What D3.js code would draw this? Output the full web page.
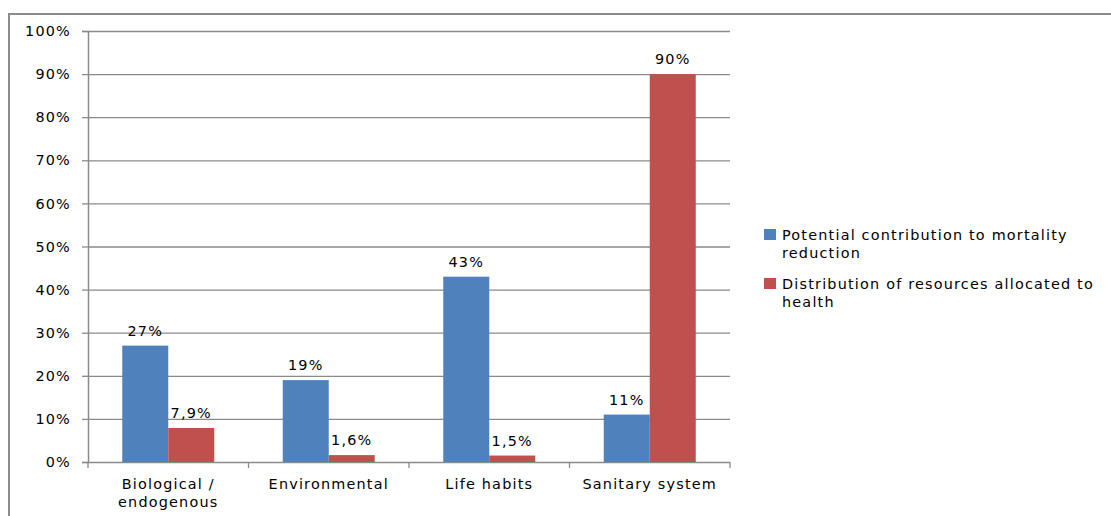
<!DOCTYPE html>
<html><head><meta charset="utf-8">
<script src="https://cdn.jsdelivr.net/npm/d3@7"></script>
<style>body{margin:0;background:#fff}svg{display:block}text{font-family:"DejaVu Sans",sans-serif;fill:#000}</style>
</head><body><svg id="c" width="1111" height="516"></svg>
<script>
const categories = [["Biological /","endogenous"],["Environmental"],["Life habits"],["Sanitary system"]];
const seriesNames = [["Potential contribution to mortality","reduction"],["Distribution of resources allocated to","health"]];
const mortality = [27, 19, 43, 11];
const resources = [7.9, 1.6, 1.5, 90];
const mortalityLabels = ["27%","19%","43%","11%"];
const resourceLabels = ["7,9%","1,6%","1,5%","90%"];
const yTicks = [0,10,20,30,40,50,60,70,80,90,100];
const colors = ["#4F81BD","#C0504D"];

const svg = d3.select("#c");
const L=88, R=730, T=31, B=462;
const FS = 14.4, LS = "1.2px";
// chart border
svg.append("rect").attr("x",9).attr("y",14).attr("width",1200).attr("height",600)
  .attr("fill","none").attr("stroke","#8c8c8c").attr("stroke-width",2);

const x = d3.scaleBand().domain(d3.range(categories.length)).range([L,R]).paddingInner(0).paddingOuter(0);
const y = d3.scaleLinear().domain([0,100]).range([B,T]);
const bw = 46;
const inner = d3.scaleBand().domain([0,1]).range([0,bw*2]);

// gridlines
svg.append("g").selectAll("line").data(yTicks.filter(d=>d>0)).join("line")
  .attr("x1",L).attr("x2",R).attr("y1",d=>y(d)+0.5).attr("y2",d=>y(d)+0.5)
  .attr("stroke","#8a8a8a").attr("stroke-width",1.3);

// y axis
const ya = svg.append("g").attr("transform",`translate(${L},0)`)
  .call(d3.axisLeft(y).tickValues(yTicks).tickFormat(d=>d+"%").tickSize(6).tickPadding(11));
ya.select(".domain").attr("stroke","#8a8a8a").attr("stroke-width",1.5);
ya.selectAll(".tick line").attr("stroke","#8a8a8a").attr("stroke-width",1.3);
ya.selectAll("text").attr("font-size",FS).attr("letter-spacing",LS).attr("font-family","DejaVu Sans").attr("fill","#000");

// x axis
const xa = svg.append("g").attr("transform",`translate(0,${B})`);
xa.append("line").attr("x1",L).attr("x2",R).attr("y1",0.5).attr("y2",0.5).attr("stroke","#8a8a8a").attr("stroke-width",1.5);
xa.selectAll("line.t").data(d3.range(categories.length+1)).join("line").attr("class","t")
  .attr("x1",d=>L+d*x.step()).attr("x2",d=>L+d*x.step()).attr("y1",0).attr("y2",6)
  .attr("stroke","#8a8a8a").attr("stroke-width",1.3);
xa.selectAll("text").data(categories).join("text")
  .attr("text-anchor","middle").attr("font-size",FS).attr("letter-spacing",LS)
  .attr("x",(d,i)=>x(i)+x.bandwidth()/2)
  .each(function(d){
    const t=d3.select(this);
    d.forEach((s,k)=>t.append("tspan").attr("x",t.attr("x")).attr("y",27+k*18).text(s));
  });

const series = [mortality, resources];
const labels = [mortalityLabels, resourceLabels];
series.forEach((vals,si)=>{
  const g = svg.append("g");
  g.selectAll("rect").data(vals).join("rect")
    .attr("x",(d,i)=>x(i)+(x.bandwidth()-bw*2)/2+inner(si))
    .attr("width",bw).attr("y",d=>y(d)).attr("height",d=>B-y(d))
    .attr("fill",colors[si]);
  g.selectAll("text").data(vals).join("text")
    .attr("text-anchor","middle").attr("font-size",FS).attr("letter-spacing",LS)
    .attr("x",(d,i)=>x(i)+(x.bandwidth()-bw*2)/2+inner(si)+bw/2)
    .attr("y",d=>y(d)-10).text((d,i)=>labels[si][i]);
});

// legend
const lg = svg.append("g");
seriesNames.forEach((nm,i)=>{
  const y0 = 229 + i*49;
  lg.append("rect").attr("x",764).attr("y",y0).attr("width",12).attr("height",11).attr("fill",colors[i]);
  const t = lg.append("text").attr("font-size",FS).attr("letter-spacing",LS);
  nm.forEach((s,k)=>t.append("tspan").attr("x",782).attr("y",y0+11+k*18).text(s));
});
</script></body></html>
